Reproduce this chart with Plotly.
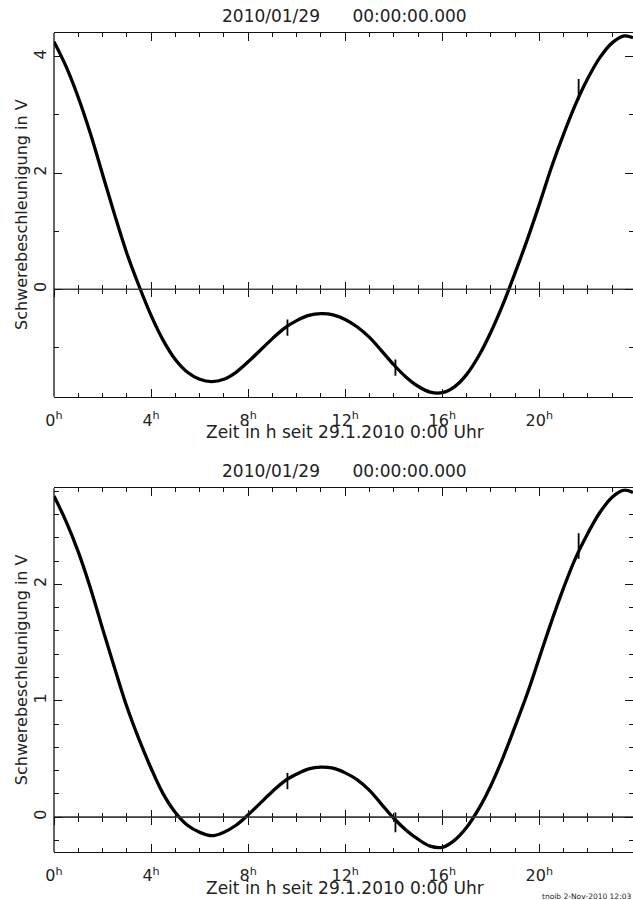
import plotly.graph_objects as go

# ---------------- data ----------------
hours = [0.0, 0.5, 1.0, 1.5, 2.0, 2.5, 3.0, 3.5, 4.0, 4.5, 5.0, 5.5, 6.0, 6.5,
         7.0, 7.5, 8.0, 8.5, 9.0, 9.5, 10.0, 10.5, 11.0, 11.5, 12.0, 12.5,
         13.0, 13.5, 14.0, 14.5, 15.0, 15.5, 16.0, 16.5, 17.0, 17.5, 18.0,
         18.5, 19.0, 19.5, 20.0, 20.5, 21.0, 21.5, 22.0, 22.5, 23.0, 23.5, 23.86]

volts_top = [4.26, 3.83, 3.30, 2.68, 1.98, 1.28, 0.62, 0.06, -0.45, -0.88, -1.21,
             -1.43, -1.55, -1.59, -1.55, -1.43, -1.25, -1.05, -0.85, -0.67, -0.54,
             -0.45, -0.42, -0.44, -0.52, -0.65, -0.83, -1.06, -1.30, -1.51, -1.67,
             -1.77, -1.78, -1.68, -1.47, -1.15, -0.74, -0.26, 0.28, 0.85, 1.46,
             2.10, 2.67, 3.19, 3.63, 3.99, 4.24, 4.36, 4.33]

volts_bottom = [2.76, 2.54, 2.28, 1.97, 1.62, 1.28, 0.95, 0.67, 0.42, 0.20, 0.04,
                -0.07, -0.13, -0.16, -0.13, -0.07, 0.02, 0.12, 0.22, 0.31, 0.37,
                0.415, 0.43, 0.42, 0.38, 0.32, 0.23, 0.11, -0.01, -0.11, -0.19,
                -0.25, -0.26, -0.20, -0.09, 0.07, 0.27, 0.51, 0.78, 1.06, 1.37,
                1.68, 1.97, 2.23, 2.44, 2.62, 2.75, 2.81, 2.79]

# short disturbances (glitches) in the record
spike_hours = [9.62, 14.07, 21.62]
spike_top_lo = [-0.80, -1.49, 3.26]
spike_top_hi = [-0.52, -1.21, 3.62]
spike_bot_lo = [0.24, -0.13, 2.22]
spike_bot_hi = [0.38, 0.04, 2.44]

x_tick_vals = [0, 4, 8, 12, 16, 20]
x_tick_text = ["0<sup>h</sup>", "4<sup>h</sup>", "8<sup>h</sup>", "12<sup>h</sup>",
               "16<sup>h</sup>", "20<sup>h</sup>"]
x_minor_vals = list(range(0, 24))
x_range = [0, 23.86]

top_y_range = [-1.85, 4.41]
top_y_ticks = [0, 2, 4]
top_y_minor = [-1, 1, 3]

bot_y_range = [-0.30, 2.826]
bot_y_ticks = [0, 1, 2]
bot_y_minor = [-0.2, 0.2, 0.4, 0.6, 0.8, 1.2, 1.4, 1.6, 1.8, 2.2, 2.4, 2.6, 2.8]

title_text = "2010/01/29\u00a0\u00a0\u00a0\u00a0\u00a0\u00a000:00:00.000"
x_title = "Zeit in h seit 29.1.2010 0:00 Uhr"
y_title = "Schwerebeschleunigung in V"
footer = "tnoib 2-Nov-2010 12:03"

# ---------------- layout geometry ----------------
W, H = 633, 900
ML, MR, MT, MB = 54, 0, 33, 48
PH = H - MT - MB
D_TOP = [(852 - 396.7) / PH, 1.0]
D_BOT = [0.0, (852 - 488.3) / PH]

FONT = "DejaVu Sans"
INK = "#111111"
TXT = "#222222"


def zero_pos(dom, rng):
    return dom[0] + (0 - rng[0]) / (rng[1] - rng[0]) * (dom[1] - dom[0])


def seg(xs, lo, hi):
    X, Y = [], []
    for a, b, c in zip(xs, lo, hi):
        X += [a, a, None]
        Y += [b, c, None]
    return X, Y


fig = go.Figure()

# zero lines (drawn on the free axes that carry the crossing ticks)
for xa, ya in [("x3", "y"), ("x4", "y"), ("x5", "y2"), ("x6", "y2")]:
    fig.add_trace(go.Scatter(x=x_range, y=[0, 0], mode="lines", xaxis=xa, yaxis=ya,
                             line=dict(color="#333333", width=1.1), showlegend=False,
                             hoverinfo="skip"))

fig.add_trace(go.Scatter(x=hours, y=volts_top, mode="lines", xaxis="x", yaxis="y",
                         line=dict(color="black", width=3.3, shape="spline", smoothing=1.0),
                         showlegend=False, hoverinfo="skip"))
fig.add_trace(go.Scatter(x=hours, y=volts_bottom, mode="lines", xaxis="x2", yaxis="y2",
                         line=dict(color="black", width=3.3, shape="spline", smoothing=1.0),
                         showlegend=False, hoverinfo="skip"))
sx, sy = seg(spike_hours, spike_top_lo, spike_top_hi)
fig.add_trace(go.Scatter(x=sx, y=sy, mode="lines", xaxis="x", yaxis="y",
                         line=dict(color="black", width=1.8), showlegend=False,
                         hoverinfo="skip"))
sx, sy = seg(spike_hours, spike_bot_lo, spike_bot_hi)
fig.add_trace(go.Scatter(x=sx, y=sy, mode="lines", xaxis="x2", yaxis="y2",
                         line=dict(color="black", width=1.8), showlegend=False,
                         hoverinfo="skip"))


def x_main(anchor):
    return dict(domain=[0, 1], anchor=anchor, range=x_range, showline=True,
                linecolor=INK, linewidth=1.3, mirror="ticks", ticks="inside",
                ticklen=8, tickwidth=1.1, tickcolor=INK, tickmode="array",
                tickvals=x_tick_vals, ticktext=x_tick_text,
                tickfont=dict(family=FONT, size=16, color=TXT),
                ticklabelstandoff=9,
                minor=dict(tickmode="array", tickvals=x_minor_vals, ticks="inside",
                           ticklen=4, tickwidth=1.1, tickcolor=INK),
                showgrid=False, zeroline=False, fixedrange=True)


def x_zero(over, pos, side_ticks, major_len):
    return dict(domain=[0, 1], overlaying=over, anchor="free", position=pos,
                range=x_range, showline=False,
                ticks=side_ticks, ticklen=major_len, tickwidth=1.1, tickcolor=INK,
                tickmode="array", tickvals=x_tick_vals, showticklabels=False,
                minor=dict(tickmode="array", tickvals=x_minor_vals, ticks=side_ticks,
                           ticklen=4, tickwidth=1.1, tickcolor=INK),
                showgrid=False, zeroline=False, fixedrange=True)


def y_main(anchor, dom, rng, ticks, minor):
    # the right-hand frame line lies just outside the picture in the original,
    # so only the ticks are mirrored; the left frame line is a layout shape
    return dict(domain=dom, anchor=anchor, range=rng, showline=False,
                mirror="ticks", ticks="inside", ticklen=8,
                tickwidth=1.1, tickcolor=INK, tickmode="array", tickvals=ticks,
                ticktext=[str(t) for t in ticks], tickangle=-90,
                tickfont=dict(family=FONT, size=16, color=TXT),
                ticklabelstandoff=4,
                minor=dict(tickmode="array", tickvals=minor, ticks="inside",
                           ticklen=4.5, tickwidth=1.1, tickcolor=INK),
                showgrid=False, zeroline=False, fixedrange=True)


zt = zero_pos(D_TOP, top_y_range)
zb = zero_pos(D_BOT, bot_y_range)

fig.update_layout(
    width=W, height=H, margin=dict(l=ML, r=MR, t=MT, b=MB, autoexpand=False),
    paper_bgcolor="white", plot_bgcolor="white", showlegend=False,
    xaxis=x_main("y"),
    yaxis=y_main("x", D_TOP, top_y_range, top_y_ticks, top_y_minor),
    xaxis2=x_main("y2"),
    yaxis2=y_main("x2", D_BOT, bot_y_range, bot_y_ticks, bot_y_minor),
    xaxis3=x_zero("x", zt, "inside", 7),
    xaxis4=x_zero("x", zt, "outside", 7),
    xaxis5=x_zero("x2", zb, "inside", 7),
    xaxis6=x_zero("x2", zb, "outside", 7),
)

# left frame lines
for yd in ["y domain", "y2 domain"]:
    fig.add_shape(type="line", xref="x domain", yref=yd, x0=0, x1=0, y0=0, y1=1,
                  line=dict(color=INK, width=1.3))


def py(px):
    return (H - MB - px) / PH


def pxx(px):
    return (px - ML) / (W - ML - MR)


ann = []
for top_px, bot_px in [(33.3, 396.7), (488.3, 852.0)]:
    ann.append(dict(text=title_text, x=pxx(344), y=py(top_px - 17.5), xref="paper",
                    yref="paper", xanchor="center", yanchor="middle", showarrow=False,
                    font=dict(family=FONT, size=17, color=TXT)))
    ann.append(dict(text=x_title, x=pxx(345), y=py(bot_px + 35.5), xref="paper",
                    yref="paper", xanchor="center", yanchor="middle", showarrow=False,
                    font=dict(family=FONT, size=17, color=TXT)))
    ann.append(dict(text=y_title, x=pxx(21), y=py((top_px + bot_px) / 2), xref="paper",
                    yref="paper", xanchor="center", yanchor="middle", showarrow=False,
                    textangle=-90, font=dict(family=FONT, size=16, color=TXT)))
ann.append(dict(text=footer, x=pxx(633), y=py(896), xref="paper", yref="paper",
                xanchor="right", yanchor="middle", showarrow=False,
                font=dict(family=FONT, size=7.5, color=TXT)))
fig.update_layout(annotations=ann)

fig.write_html("out.html")
